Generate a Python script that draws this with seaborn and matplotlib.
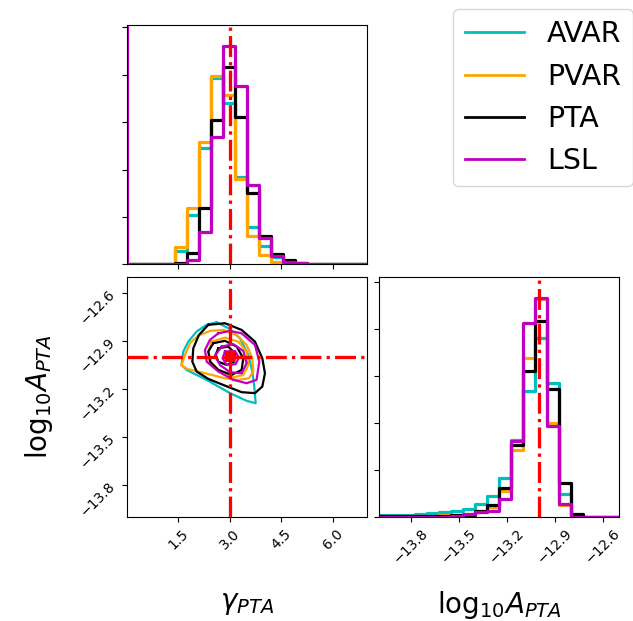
import numpy as np
import pandas as pd
import matplotlib
matplotlib.use("Agg")
import matplotlib.pyplot as plt
from matplotlib.lines import Line2D
import seaborn as sns

# ---- parameters and binning ----
series = ["AVAR", "PVAR", "PTA", "LSL"]
colors = ["c", "orange", "k", "m"]

gamma_range = (0.0, 7.0)
logA_range = (-14.0, -12.5)
n_bins = 20
gamma_true = 3.0
logA_true = -13.0

gamma_ticks = [1.5, 3.0, 4.5, 6.0]
logA_ticks = [-13.8, -13.5, -13.2, -12.9, -12.6]
density_ticks = [0.0, 0.2, 0.4, 0.6, 0.8, 1.0]

# ---- marginal posterior of gamma (normalised bin heights) ----
gamma_avar = [0, 0, 0, 0, 0.056, 0.208, 0.489, 0.785, 0.679, 0.367,
              0.156, 0.077, 0.032, 0.014, 0.004, 0, 0, 0, 0, 0]
gamma_pvar = [0, 0, 0, 0, 0.072, 0.236, 0.518, 0.796, 0.714, 0.359,
              0.121, 0.039, 0.008, 0, 0, 0, 0, 0, 0, 0]
gamma_pta = [0, 0, 0, 0, 0.006, 0.049, 0.239, 0.608, 0.834, 0.620,
             0.302, 0.121, 0.045, 0.018, 0.004, 0, 0, 0, 0, 0]
gamma_lsl = [0, 0, 0, 0, 0, 0.018, 0.135, 0.536, 0.923, 0.751,
             0.335, 0.110, 0.037, 0.011, 0.004, 0, 0, 0, 0, 0]

# ---- marginal posterior of log10 A ----
logA_avar = [0.007, 0.007, 0.007, 0.010, 0.014, 0.018, 0.026, 0.034, 0.053, 0.088,
             0.165, 0.327, 0.538, 0.764, 0.569, 0.097, 0.004, 0, 0, 0]
logA_pvar = [0.002, 0.002, 0.003, 0.004, 0.005, 0.007, 0.009, 0.012, 0.020, 0.043,
             0.110, 0.284, 0.676, 0.927, 0.400, 0.050, 0, 0, 0, 0]
logA_pta = [0.001, 0.001, 0.002, 0.003, 0.004, 0.005, 0.006, 0.008, 0.026, 0.050,
            0.121, 0.306, 0.622, 0.836, 0.545, 0.142, 0.011, 0, 0, 0]
logA_lsl = [0, 0, 0, 0, 0, 0, 0.004, 0.010, 0.018, 0.026,
            0.074, 0.324, 0.825, 0.933, 0.388, 0.053, 0, 0, 0, 0]

# ---- joint posterior credible contours (gamma, log10 A) ----
avar_contours = [
    [(2.615, -12.785), (2.956, -12.822), (3.296, -12.885), (3.539, -12.989),
     (3.656, -13.093), (3.714, -13.187), (3.753, -13.291), (3.490, -13.276),
     (3.004, -13.228), (2.324, -13.145), (1.740, -13.083), (1.594, -13.052),
     (1.614, -13.010), (1.643, -12.968), (1.789, -12.906), (2.032, -12.843),
     (2.324, -12.801)],
]
pvar_contours = [
    [(1.594, -13.052), (1.692, -12.989), (1.837, -12.916), (2.081, -12.868),
     (2.421, -12.839), (2.810, -12.833), (3.199, -12.864), (3.490, -12.927),
     (3.656, -13.010), (3.685, -13.093), (3.558, -13.135), (3.247, -13.145),
     (2.858, -13.135), (2.469, -13.114), (2.081, -13.093), (1.740, -13.076)],
    [(2.469, -12.906), (2.858, -12.881), (3.247, -12.906), (3.490, -12.968),
     (3.539, -13.052), (3.393, -13.114), (3.053, -13.131), (2.712, -13.093),
     (2.469, -13.041), (2.372, -12.968)],
]
pta_contours = [
    [(2.372, -12.801), (2.858, -12.791), (3.344, -12.833), (3.733, -12.906),
     (3.947, -13.010), (4.025, -13.104), (3.947, -13.187), (3.733, -13.228),
     (3.344, -13.222), (2.858, -13.181), (2.372, -13.139), (2.032, -13.093),
     (1.906, -13.031), (1.935, -12.947), (2.100, -12.864)],
    [(2.518, -12.916), (2.858, -12.901), (3.199, -12.937), (3.393, -13.010),
     (3.344, -13.083), (3.053, -13.114), (2.664, -13.083), (2.421, -13.031),
     (2.372, -12.968)],
    [(2.664, -12.947), (2.956, -12.937), (3.150, -12.979), (3.130, -13.031),
     (2.907, -13.052), (2.664, -13.031), (2.586, -12.989)],
]
lsl_contours = [
    [(2.664, -12.854), (3.004, -12.839), (3.344, -12.854), (3.733, -12.927),
     (3.860, -13.031), (3.780, -13.145), (3.490, -13.166), (3.101, -13.145),
     (2.664, -13.093), (2.324, -13.031), (2.275, -12.958), (2.421, -12.895)],
    [(2.761, -12.937), (3.101, -12.922), (3.393, -12.964), (3.490, -13.041),
     (3.344, -13.104), (3.004, -13.097), (2.712, -13.052), (2.567, -12.993)],
    [(2.858, -12.968), (3.150, -12.964), (3.267, -13.005), (3.169, -13.047),
     (2.907, -13.052), (2.790, -13.010)],
]

gamma_hists = [gamma_avar, gamma_pvar, gamma_pta, gamma_lsl]
logA_hists = [logA_avar, logA_pvar, logA_pta, logA_lsl]
all_contours = [avar_contours, pvar_contours, pta_contours, lsl_contours]

# ---- figure layout ----
fig = plt.figure(figsize=(6.33, 6.21), dpi=100)
ax_g = fig.add_axes([0.2006, 0.5744, 0.3791, 0.3853])
ax_2d = fig.add_axes([0.2006, 0.1680, 0.3791, 0.3865])
ax_a = fig.add_axes([0.5987, 0.1680, 0.3791, 0.3865])

hist_lw = 2.3
truth_kw = dict(color="r", ls="-.", lw=2.35, zorder=10)
label_kw = dict(fontsize=20)


def step_hist(ax, lo, hi, heights, color):
    edges = np.linspace(lo, hi, n_bins + 1)
    df = pd.DataFrame({"x": 0.5 * (edges[:-1] + edges[1:]),
                       "w": np.asarray(heights, dtype=float)})
    sns.histplot(data=df, x="x", weights="w", bins=n_bins, binrange=(lo, hi),
                 element="step", fill=False, color=color, linewidth=hist_lw,
                 ax=ax)


def minus(v):
    return f"{v:.1f}".replace("-", "\u2212")


# gamma marginal
for h, c in zip(gamma_hists, colors):
    step_hist(ax_g, *gamma_range, h, c)
ax_g.axvline(gamma_range[0], color="m", lw=hist_lw)
ax_g.axvline(gamma_true, **truth_kw)
ax_g.set_xlim(*gamma_range)
ax_g.set_ylim(0, 1.01)
ax_g.set_xticks(gamma_ticks)
ax_g.set_yticks(density_ticks)
ax_g.set_xticklabels([])
ax_g.set_yticklabels([])
ax_g.set_xlabel("")
ax_g.set_ylabel("")

# log10 A marginal
for h, c in zip(logA_hists, colors):
    step_hist(ax_a, *logA_range, h, c)
ax_a.axvline(logA_true, **truth_kw)
ax_a.set_xlim(*logA_range)
ax_a.set_ylim(0, 1.024)
ax_a.set_xticks(logA_ticks)
ax_a.set_yticks(density_ticks)
ax_a.set_yticklabels([])
ax_a.set_ylabel("")
ax_a.set_xticklabels([minus(t) for t in logA_ticks], rotation=45, fontsize=10)
ax_a.set_xlabel(r"$\mathrm{log}_{10}A_{PTA}$", **label_kw)
ax_a.xaxis.set_label_coords(0.5, -0.3)

# joint posterior
for conts, c in zip(all_contours, colors):
    for poly in conts:
        g = [p[0] for p in poly] + [poly[0][0]]
        a = [p[1] for p in poly] + [poly[0][1]]
        sns.lineplot(x=g, y=a, sort=False, estimator=None, color=c,
                     lw=1.6, ax=ax_2d)
ax_2d.axvline(gamma_true, **truth_kw)
ax_2d.axhline(logA_true, **truth_kw)
sns.scatterplot(x=[gamma_true], y=[logA_true], marker="s", s=60, color="r",
                linewidth=0, zorder=11, ax=ax_2d)
ax_2d.set_xlim(*gamma_range)
ax_2d.set_ylim(*logA_range)
ax_2d.set_xticks(gamma_ticks)
ax_2d.set_yticks(logA_ticks)
ax_2d.set_xticklabels([f"{t:.1f}" for t in gamma_ticks], rotation=45, fontsize=10)
ax_2d.set_yticklabels([minus(t) for t in logA_ticks], rotation=45, fontsize=10)
ax_2d.set_xlabel(r"$\gamma_{PTA}$", **label_kw)
ax_2d.set_ylabel(r"$\mathrm{log}_{10}A_{PTA}$", **label_kw)
ax_2d.xaxis.set_label_coords(0.5, -0.3)
ax_2d.yaxis.set_label_coords(-0.3, 0.5)

# legend
handles = [Line2D([], [], color=c, lw=2) for c in colors]
fig.legend(handles, series, loc="upper right", bbox_to_anchor=(1.0, 1 - 9 / 621),
           bbox_transform=fig.transFigure, borderaxespad=0, fontsize=20.5,
           handlelength=2.1, labelspacing=0.5)

fig.savefig("out.png", dpi=100)
